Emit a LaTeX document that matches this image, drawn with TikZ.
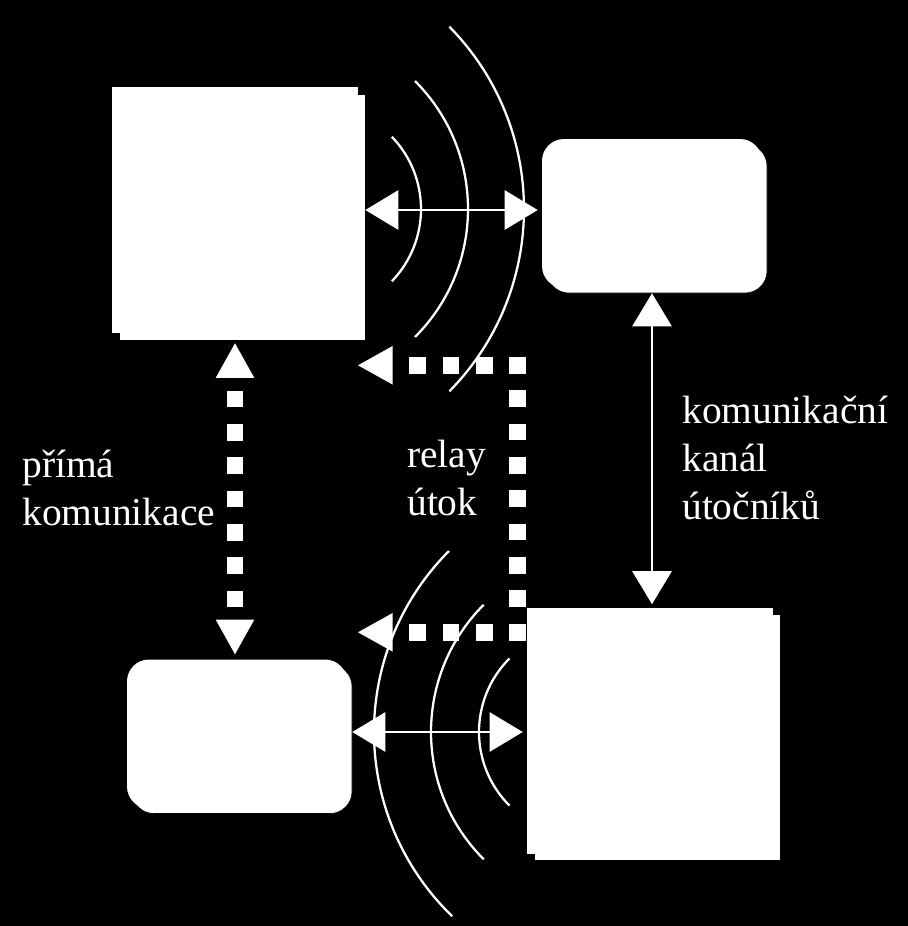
\documentclass[tikz,border=0pt]{standalone}
\usepackage{fontspec}
\setmainfont{Liberation Serif}
\usetikzlibrary{arrows.meta,shadows}
\begin{document}
\begin{tikzpicture}[x=0.75pt,y=-0.75pt,
  box/.style={fill=white, draw=none, inner sep=0pt},
  sqbox/.style={box, minimum width=184.5pt, minimum height=184.5pt,
    copy shadow={shadow xshift=5.25pt, shadow yshift=-5.25pt}},
  rbox/.style={box, rounded corners=16.5pt, minimum width=165pt, minimum height=111.75pt,
    copy shadow={shadow xshift=3.75pt, shadow yshift=-3.75pt}},
  biarrow/.style={white, line width=2pt, {Triangle[length=24.75pt,width=29.25pt]}-{Triangle[length=24.75pt,width=29.25pt]}},
  dots/.style={white, line width=12.5pt, dash pattern=on 12.5pt off 12.5pt},
  dotarrow/.style={dots, -{Triangle[length=26pt,width=29pt,line width=0pt]}},
  dotbiarrow/.style={dots, {Triangle[length=26pt,width=29pt,line width=0pt]}-{Triangle[length=26pt,width=29pt,line width=0pt]}},
  wave/.style={white, line width=1.7pt},
  lbl/.style={text=white, inner sep=0pt, anchor=base west, align=left,
    font=\fontsize{29.6pt}{36pt}\selectfont}
]
\fill[black] (0,0) rectangle (908,926);
\useasboundingbox (0,0) rectangle (908,926);

% boxes
\node[sqbox] (tl) at (235,210) {};
\node[rbox]  (tr) at (652,213.5) {};
\node[rbox]  (bl) at (237,734) {};
\node[sqbox] (br) at (650,730.5) {};

% radio waves (top)
\draw[wave] (317,209) ++(-44:104) arc[start angle=-44, end angle=44, radius=104];
\draw[wave] (287,209) ++(-45:181) arc[start angle=-45, end angle=45, radius=181];
\draw[wave] (264,209) ++(-44.5:260) arc[start angle=-44.5, end angle=44.5, radius=260];
% radio waves (bottom)
\draw[wave] (583,732) ++(135:104) arc[start angle=135, end angle=225, radius=104];
\draw[wave] (611,732) ++(135:180) arc[start angle=135, end angle=225, radius=180];
\draw[wave] (630,732) ++(134:256) arc[start angle=134, end angle=225, radius=256];

% solid connectors
\draw[biarrow] ([xshift=5.25pt]tl.east) -- ([xshift=-3pt]tr.west |- tl.east);
\coordinate (bA) at ([xshift=3.75pt,yshift=1.5pt]bl.east);
\draw[biarrow] (bA) -- ([xshift=-3pt]br.west |- bA);
\draw[biarrow] ([yshift=-3.75pt]tr.south) -- ([yshift=2.25pt]br.north -| tr.south);

% direct communication (dotted)
\draw[dotbiarrow, dash phase=15.5pt] ([yshift=-7.5pt]tl.south) -- ([yshift=3.75pt]bl.north -| tl.south);

% relay attack (dotted)
\coordinate (rt) at (517.6,365.3);
\coordinate (rb) at (517.6,632.3);
\coordinate (rtTip) at (358,365.3);
\coordinate (rbTip) at (358,632.3);
\draw[dots] ([yshift=6.26pt]rt) -- ([yshift=-6.26pt]rb);
\draw[dotarrow] ([xshift=6.26pt]rt) -- (rtTip);
\draw[dotarrow] ([xshift=6.26pt]rb) -- (rbTip);

% labels (anchor = baseline of last line)
\node[lbl] (t1) at (22,525) {přímá\\komunikace};
\node[lbl] (t2) at (407,515) {relay\\útok};
\node[lbl] (t3) at (682,519) {komunikační\\kanál\\útočníků};
\end{tikzpicture}
\end{document}
